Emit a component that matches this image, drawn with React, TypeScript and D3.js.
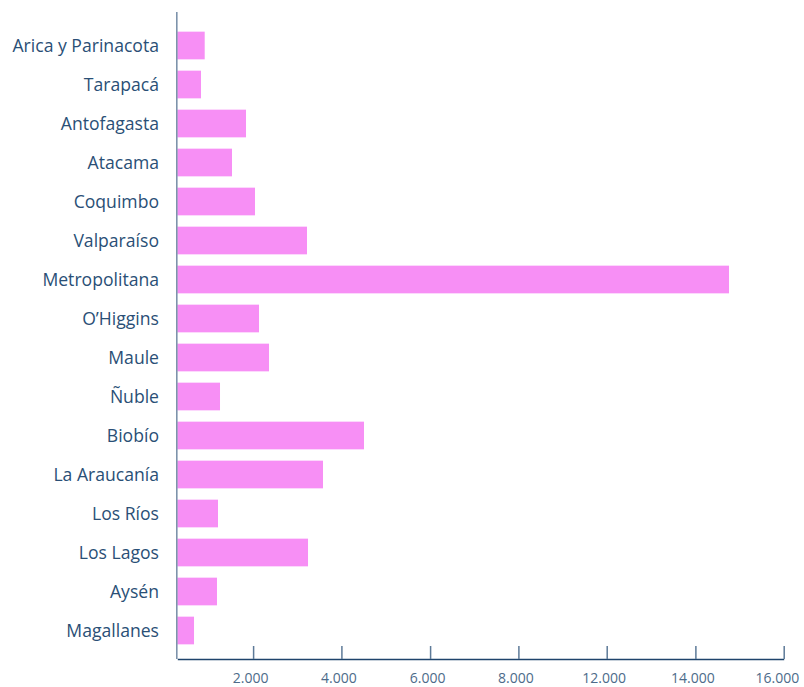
import React, { useEffect, useRef } from "react";
import * as d3 from "d3";

const regions = [
  "Arica y Parinacota",
  "Tarapacá",
  "Antofagasta",
  "Atacama",
  "Coquimbo",
  "Valparaíso",
  "Metropolitana",
  "O’Higgins",
  "Maule",
  "Ñuble",
  "Biobío",
  "La Araucanía",
  "Los Ríos",
  "Los Lagos",
  "Aysén",
  "Magallanes",
];

const values = [
  723, 625, 1813, 1443, 2050, 3422, 14557, 2156, 2420, 1127, 4926, 3844, 1074,
  3449, 1047, 441,
];

// tick positions as drawn in the source, with the labels it printed
const tickValues = [2000, 4330, 6670, 9000, 11330, 13670, 16000];
const tickLabels = ["2.000", "4.000", "6.000", "8.000", "12.000", "14.000", "16.000"];

const width = 804;
const height = 687;

export default function App() {
  const svgRef = useRef<SVGSVGElement>(null);

  useEffect(() => {
    const svg = d3.select(svgRef.current);
    svg.selectAll("*").remove();

    const textColor = "#2a4f76";
    const font = "'Open Sans', sans-serif";

    const x = d3.scaleLinear().domain([0, 16000]).range([177.3, 783.7]);
    const y = d3
      .scaleBand()
      .domain(regions)
      .range([26, 650])
      .paddingInner(0.29)
      .paddingOuter(0.145);

    const axisY = 659;

    // bars
    svg
      .append("g")
      .selectAll("rect")
      .data(regions)
      .join("rect")
      .attr("x", x(0))
      .attr("y", (d) => y(d)!)
      .attr("width", (d, i) => x(values[i]) - x(0))
      .attr("height", y.bandwidth())
      .attr("fill", "#f78ff5");

    // category labels
    svg
      .append("g")
      .selectAll("text")
      .data(regions)
      .join("text")
      .attr("x", 159)
      .attr("y", (d) => y(d)! + y.bandwidth() / 2)
      .attr("dy", "0.35em")
      .attr("text-anchor", "end")
      .style("font-family", font)
      .style("font-size", "17.6px")
      .attr("fill", textColor)
      .text((d) => d);

    // y axis line
    svg
      .append("line")
      .attr("x1", 176.8)
      .attr("x2", 176.8)
      .attr("y1", 12)
      .attr("y2", axisY)
      .attr("stroke", "#7d93ab")
      .attr("stroke-width", 1.6);

    // x axis
    const xAxis = svg
      .append("g")
      .attr("transform", `translate(0,${axisY})`)
      .call(
        d3
          .axisBottom(x)
          .tickValues(tickValues)
          .tickFormat((d, i) => tickLabels[i])
          .tickSizeInner(-13)
          .tickSizeOuter(0)
          .tickPadding(14)
      );
    xAxis.select(".domain").attr("stroke", "#1f446c").attr("stroke-width", 1.5);
    xAxis.selectAll(".tick line").attr("stroke", "#5d7a98").attr("stroke-width", 1.5);
    xAxis
      .selectAll(".tick text")
      .attr("fill", "#4d6b8a")
      .attr("dx", -3)
      .style("font-family", font)
      .style("font-size", "14px");

    // keep the last label inside the frame
    xAxis
      .selectAll<SVGTextElement, number>(".tick text")
      .filter((d, i, nodes) => i === nodes.length - 1)
      .attr("text-anchor", "end")
      .attr("dx", 15);
  }, []);

  return (
    <svg
      ref={svgRef}
      width={width}
      height={height}
      style={{ position: "absolute", left: 0, top: 0, background: "#fff" }}
    ></svg>
  );
}
